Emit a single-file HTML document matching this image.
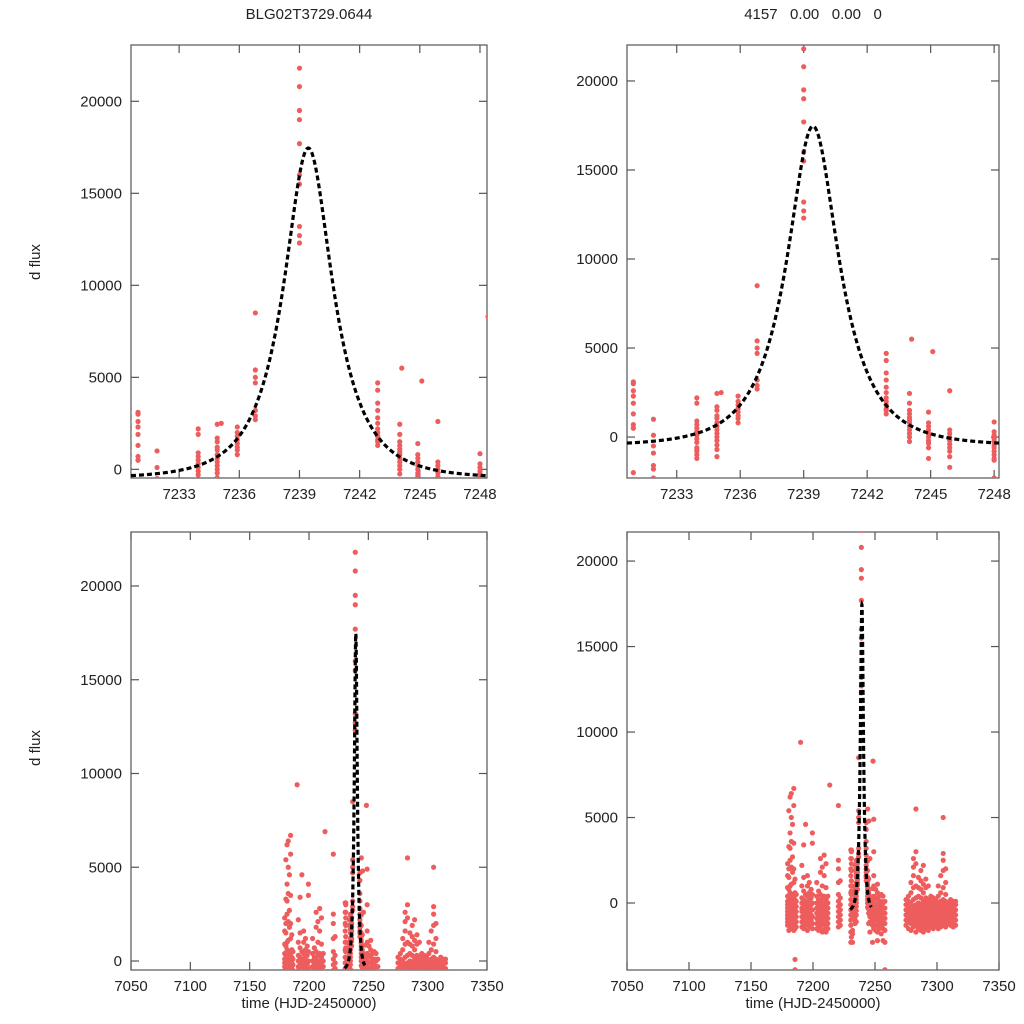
<!DOCTYPE html>
<html><head><meta charset="utf-8"><style>
body{margin:0;background:#fff;}
svg{display:block;font-family:"Liberation Sans",sans-serif;}
</style></head><body>
<svg id="chart" width="1024" height="1024" viewBox="0 0 1024 1024">
<text x="309" y="19" font-size="15" text-anchor="middle" fill="#222">BLG02T3729.0644</text>
<text x="813" y="19" font-size="15" text-anchor="middle" fill="#222" xml:space="preserve">4157   0.00   0.00   0</text>
<text x="40" y="262" font-size="15" text-anchor="middle" fill="#222" transform="rotate(-90 40 262)">d flux</text>
<text x="40" y="748" font-size="15" text-anchor="middle" fill="#222" transform="rotate(-90 40 748)">d flux</text>
<text x="309" y="1008" font-size="15" text-anchor="middle" fill="#222">time (HJD-2450000)</text>
<text x="813" y="1008" font-size="15" text-anchor="middle" fill="#222">time (HJD-2450000)</text>
</svg>
<script>
// observation nights: time (HJD-2450000) and flux values (thousands)
const nightTimes = [7179.5,7180.5,7181.5,7182.5,7183.5,7184.5,7185.5,7186.5,7190,7191,7192.5,7194,7195.5,7197,7198.5,7199.5,7203,7204.5,7206,7207.5,7209,7210.5,7212,7213.5,7220.5,7222,7230.5,7230.95,7231.9,7233.95,7234.9,7235.1,7235.9,7236.8,7239.0,7242.9,7244.0,7244.1,7244.9,7245.1,7245.9,7248.0,7248.4,7249,7250.5,7252,7253.5,7255,7256.5,7258,7275,7277,7279,7281,7283,7285,7287,7289,7291,7293,7295,7297,7299,7301,7303,7305,7307,7309,7311,7313,7315];
const nightFlux = [
"-1.3,-1.1,-0.9,-0.7,-0.5,-0.3,-0.1,0.1,0.4,0.9,1.6,2.3",
"-1.6,-1.2,-1.0,-0.8,-0.6,-0.4,-0.2,0,0.3,0.8,1.5,2.0,3.3,5.4",
"-1.4,-1.2,-0.9,-0.7,-0.5,-0.3,-0.1,0.2,0.6,1.0,2.5,3.2,4.1,6.2",
"-1.5,-1.1,-0.9,-0.6,-0.4,-0.2,0,0.3,1.1,2.1,3.6,5.0,6.4",
"-1.3,-1.0,-0.8,-0.6,-0.4,-0.1,0.1,0.5,1.8,2.7,4.6",
"-1.6,-1.3,-1.0,-0.7,-0.5,-0.3,0,0.4,1.2,2.0,3.5,5.7,6.7",
"-3.9,-3.3,-1.5,-1.2,-0.9,-0.6,-0.4,-0.1,0.2,0.6,1.4",
"-1.4,-1.1,-0.8,-0.5,-0.2,0.1,0.5",
"9.4",
"-1.4,-1.1,-0.8,-0.5,-0.3,0,0.3,1.0,2.2",
"-1.5,-1.2,-0.9,-0.6,-0.3,-0.1,0.2,0.7,1.5,3.4",
"-1.3,-1.0,-0.7,-0.4,-0.2,0.1,0.5,4.6",
"-1.6,-1.2,-0.9,-0.6,-0.3,0,0.4,1.0,1.6",
"-1.4,-1.1,-0.8,-0.5,-0.2,0.2,0.6,1.2",
"-1.3,-1.0,-0.7,-0.4,-0.1,0.3,0.8",
"-1.5,-1.2,-0.8,-0.4,0,0.5,3.5,4.1",
"-1.5,-1.2,-0.9,-0.6,-0.3,0,0.4,1.2",
"-1.6,-1.3,-1.0,-0.7,-0.4,-0.1,0.2,0.7",
"-1.5,-1.1,-0.8,-0.5,-0.2,0.1,0.5,1.8,2.6",
"-1.7,-1.3,-1.0,-0.7,-0.4,-0.1,0.3,1.0,2.1",
"-1.6,-1.2,-0.9,-0.6,-0.3,0,0.4,1.6,2.8",
"-1.7,-1.4,-1.1,-0.8,-0.5,-0.2,0.2,0.9,2.3",
"-1.5,-1.2,-0.9,-0.6,-0.3,0,0.4",
"6.9",
"-1.4,-1.1,-0.8,-0.5,-0.2,0.1,0.5,1.2,2.0,2.5,5.7",
"-1.3,-1.0,-0.7,-0.4,-0.1,0.3,1.3",
"-2.3,-1.7,-1.3,-1.0,-0.7,-0.4,-0.1,0.2,0.6,1.0,1.6,2.0,2.6,3.1",
"3.1,3.0,2.6,2.3,1.9,1.3,0.7,0.5,0.5,-2.0",
"1.0,0.1,-0.5,-0.9,-1.6,-1.8,-2.3",
"2.2,1.9,0.9,0.7,0.5,0.3,0.1,-0.1,-0.3,-0.6,-0.7,-0.8,-1.0,-1.2",
"2.45,1.7,1.5,1.2,1.05,0.8,0.6,0.4,0.2,0,-0.2,-0.45,-0.7,-1.1",
"2.5",
"2.3,2.0,1.8,1.6,1.4,1.2,1.05,0.8",
"8.5,5.4,5.0,4.7,3.2,2.9,2.7",
"21.8,20.8,19.5,19.0,17.7,16.0,15.5,13.2,12.7,12.3",
"4.7,4.3,3.6,3.2,2.8,2.5,2.2,2.0,1.8,1.6,1.5,1.3",
"2.45,1.9,1.5,1.3,1.1,0.95,0.8,0.6,0.4,0.2,0,-0.25",
"5.5",
"1.4,0.8,0.6,0.4,0.2,0,-0.2,-0.35,-0.6,-1.2",
"4.8",
"2.6,0.4,0.2,0,-0.2,-0.4,-0.6,-0.8,-1.1,-1.7",
"0.85,0.3,0.1,-0.1,-0.25,-0.45,-0.6,-0.8,-1.0,-1.2,-1.3,-2.3",
"8.3",
"-1.5,-1.2,-0.9,-0.6,-0.3,0,0.4,1.0,1.6,3.0,4.9",
"-1.6,-1.3,-1.0,-0.7,-0.4,-0.1,0.3,0.8",
"-2.2,-1.7,-1.3,-1.0,-0.7,-0.4,-0.1,0.2,0.6,1.1",
"-1.5,-1.2,-0.9,-0.6,-0.3,0,0.4",
"-1.8,-1.4,-1.1,-0.8,-0.5,-0.2,0.1,0.5",
"-2.2,-1.5,-1.2,-0.9,-0.6,-0.3,0,0.4",
"-3.9,-2.3,-1.6,-1.2,-0.9,-0.6,-0.3,0.1",
"-1.3,-1.0,-0.7,-0.4,-0.1,0.2",
"-1.5,-1.1,-0.8,-0.5,-0.2,0.1,0.4",
"-1.6,-1.2,-0.9,-0.6,-0.3,0,0.6,1.2",
"-1.4,-1.1,-0.8,-0.5,-0.2,0.2,0.9,1.6,2.1,2.6",
"-1.7,-1.3,-1.0,-0.7,-0.4,-0.1,0.3,1.0,2.3,3.0,5.5",
"-1.5,-1.2,-0.9,-0.6,-0.3,0,0.4,0.9,1.5",
"-1.6,-1.3,-1.0,-0.7,-0.4,-0.1,0.3,0.8,1.3,1.9",
"-1.7,-1.4,-1.1,-0.8,-0.5,-0.2,0.1,0.6,1.1,2.2",
"-1.5,-1.2,-0.9,-0.6,-0.3,0,0.3,0.9,1.4",
"-1.6,-1.3,-1.0,-0.7,-0.4,-0.1,0.2,1.0",
"-1.4,-1.1,-0.8,-0.5,-0.2,0.1,0.4",
"-1.5,-1.2,-0.9,-0.6,-0.3,0,0.3",
"-1.3,-1.0,-0.7,-0.4,-0.1,0.2",
"-1.5,-1.2,-0.9,-0.6,-0.3,0,0.4,1.0",
"-1.4,-1.1,-0.8,-0.5,-0.2,0.1,0.6,1.6",
"-1.3,-1.0,-0.7,-0.4,-0.1,0.2,0.9,1.9,2.5,2.9,5.0",
"-1.4,-1.1,-0.8,-0.5,-0.2,0.1,0.5,1.2,2.0",
"-1.2,-0.9,-0.6,-0.3,0",
"-1.3,-1.0,-0.7,-0.4,-0.1,0.2",
"-1.4,-1.1,-0.8,-0.5,-0.2,0.1",
"-1.3,-1.0,-0.7,-0.4,-0.1,0.1"];
// microlensing model parameters: t0, tE, u0, baseline, amplitude
const modelParams = [7239.44, 2.58, 0.5, -500, 17960];
const zoomTicks = [7233,7236,7239,7242,7245,7248];
const fullTicks = [7050,7100,7150,7200,7250,7300,7350];
const fluxTicks = [0,5000,10000,15000,20000];

const NS = 'http://www.w3.org/2000/svg';
const svg = document.getElementById('chart');
function mk(tag, attrs, parent){
  const e = document.createElementNS(NS, tag);
  for (const k in attrs) e.setAttribute(k, attrs[k]);
  (parent||svg).appendChild(e); return e;
}
function model(t){
  const [t0,tE,u0,base,amp]=modelParams;
  const A=u=>(u*u+2)/(u*Math.sqrt(u*u+4));
  const u=Math.sqrt(u0*u0+((t-t0)/tE)**2);
  return base+amp*(A(u)-1)/(A(u0)-1);
}
const panels = [
 {id:'top-left', box:[131,45,487,478], xd:[7230.6,7248.35], yd:[-470,23060], xt:zoomTicks, m:[7230.6,7248.35]},
 {id:'top-right', box:[627,45,999,478], xd:[7230.65,7248.23], yd:[-2300,22020], xt:zoomTicks, m:[7230.65,7248.23]},
 {id:'bottom-left', box:[131,532,487,970], xd:[7050,7350], yd:[-480,22880], xt:fullTicks, m:[7230,7247]},
 {id:'bottom-right', box:[627,532,999,970], xd:[7050,7350], yd:[-3918,21700], xt:fullTicks, m:[7230,7247]}
];
panels.forEach((p,pi)=>{
  const [x0,y0,x1,y1]=p.box;
  const sx=t=>x0+(t-p.xd[0])/(p.xd[1]-p.xd[0])*(x1-x0);
  const sy=v=>y1-(v-p.yd[0])/(p.yd[1]-p.yd[0])*(y1-y0);
  const g=mk('g',{});
  
  
  const cid='clip'+pi;
  const cp=mk('clipPath',{id:cid},g); mk('rect',{x:x0,y:y0,width:x1-x0,height:y1-y0},cp);
  const frame=mk('rect',{x:x0,y:y0,width:x1-x0,height:y1-y0,fill:'none',stroke:'#555','stroke-width':1.2},g);
  
  
  p.xt.forEach(t=>{
    const x=sx(t);
    mk('line',{x1:x,x2:x,y1:y1,y2:y1-8,stroke:'#555','stroke-width':1.2},g);
    mk('line',{x1:x,x2:x,y1:y0,y2:y0+8,stroke:'#555','stroke-width':1.2},g);
    const tx=mk('text',{x:x,y:y1+21,'font-size':15,'text-anchor':'middle',fill:'#222'},g);
    tx.textContent=t;
    
    
  });
  fluxTicks.forEach(v=>{
    const y=sy(v);
    mk('line',{x1:x0,x2:x0+8,y1:y,y2:y,stroke:'#555','stroke-width':1.2},g);
    mk('line',{x1:x1,x2:x1-8,y1:y,y2:y,stroke:'#555','stroke-width':1.2},g);
    const ty=mk('text',{x:x0-9,y:y+5,'font-size':15,'text-anchor':'end',fill:'#222'},g);
    ty.textContent=v;
    
    
  });
  const pts=mk('g',{'clip-path':'url(#'+cid+')',fill:'#ee5d5d'},g);
  
  
  nightTimes.forEach((t,i)=>{
    nightFlux[i].split(',').forEach(s=>{
      const c=mk('circle',{cx:sx(t),cy:sy(parseFloat(s)*1000),r:2.6},pts);
      
      
    });
  });
  let d='';
  for(let k=0;k<=600;k++){
    const t=p.m[0]+(p.m[1]-p.m[0])*k/600;
    d+=(k?'L':'M')+sx(t).toFixed(2)+' '+sy(model(t)).toFixed(2);
  }
  const path=mk('path',{d:d,fill:'none',stroke:'#000','stroke-width':3.2,'stroke-dasharray':'5 3','clip-path':'url(#'+cid+')'},g);
  
  
});
</script>
</body></html>
